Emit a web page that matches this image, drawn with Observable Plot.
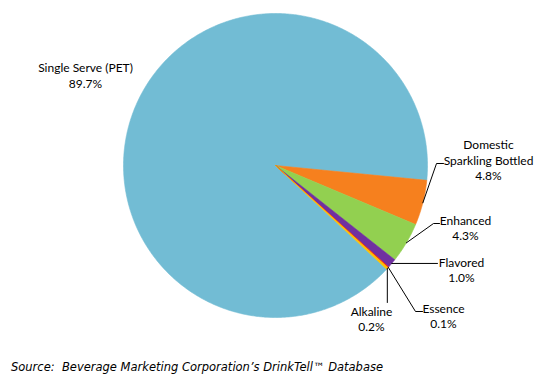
<!DOCTYPE html>
<html>
<head>
<meta charset="utf-8">
<script src="https://cdn.jsdelivr.net/npm/d3@7"></script>
<script src="https://cdn.jsdelivr.net/npm/@observablehq/plot@0.6"></script>
<style>
  body { margin: 0; background: #fff; }
  #chart svg { display: block; }
  #source { font: italic 11.5px Verdana, "DejaVu Sans", sans-serif; color: #000; margin-left: 11px; padding-top: 4px; height: 26px; line-height: 26px; white-space: pre; }
</style>
</head>
<body>
<div id="chart"></div>
<div id="source">Source:  Beverage Marketing Corporation’s DrinkTell™ Database</div>
<script>
// ---- data ----
const categories = ["Single Serve (PET)", "Domestic Sparkling Bottled", "Enhanced", "Flavored", "Essence", "Alkaline"];
const labelNames = ["Single Serve (PET)", "Domestic\nSparkling Bottled", "Enhanced", "Flavored", "Essence", "Alkaline"];
const shares = [89.7, 4.8, 4.3, 1.0, 0.1, 0.2];
const sliceColors = ["#72BCD4", "#F6801E", "#92D050", "#7030A0", "#FF2A00", "#FFC000"];

// ---- layout (pixels) ----
const W = 547, H = 350;
const CX = 275, CY = 165, R = 152;
const rotation = 133; // degrees clockwise from 12 o'clock where first slice starts
const toU = (px, py) => [(px - CX) / R, (CY - py) / R];

// label block centres, in pixels
const labelPos = {
  "Single Serve (PET)": [85, 74.5],
  "Domestic Sparkling Bottled": [488, 159],
  "Enhanced": [465, 227],
  "Flavored": [461, 269],
  "Essence": [443, 315],
  "Alkaline": [371, 318]
};
// leader-line waypoints after the slice edge point (pixels; null = keep edge coordinate)
const leaderPath = {
  "Domestic Sparkling Bottled": [[436, 163], [443, 163]],
  "Enhanced": [[433, 223], [439, 223]],
  "Flavored": [[437, null]],
  "Essence": [[415, 311], [422, 311]],
  "Alkaline": [[null, 302]]
};

// ---- slices ----
const total = d3.sum(shares);
let acc = rotation;
const slices = categories.map((name, i) => {
  const span = shares[i] / total * 360;
  const s = {name, value: shares[i], start: acc, end: acc + span, mid: acc + span / 2, i};
  acc += span;
  return s;
});
const rad = d => d * Math.PI / 180;

const polyPts = [];
for (const s of slices) {
  polyPts.push({name: s.name, x: 0, y: 0});
  const n = Math.max(2, Math.ceil((s.end - s.start) / 0.5));
  for (let k = 0; k <= n; k++) {
    const a = rad(s.start + (s.end - s.start) * k / n);
    polyPts.push({name: s.name, x: Math.sin(a), y: Math.cos(a)});
  }
  polyPts.push({name: s.name, x: 0, y: 0});
}

// leader lines
const leaderPts = [];
for (const s of slices) {
  const path = leaderPath[s.name];
  if (!path) continue;
  const ex = Math.sin(rad(s.mid)), ey = Math.cos(rad(s.mid));
  leaderPts.push({name: s.name, x: ex, y: ey});
  const epx = CX + ex * R, epy = CY - ey * R;
  for (const [px, py] of path) {
    const [ux, uy] = toU(px ?? epx, py ?? epy);
    leaderPts.push({name: s.name, x: ux, y: uy});
  }
}

// labels
const labels = slices.map(s => {
  const [ux, uy] = toU(...labelPos[s.name]);
  return {name: s.name, x: ux, y: uy, text: labelNames[s.i] + "\n" + s.value.toFixed(1) + "%"};
});

const chart = Plot.plot({
  width: W,
  height: H,
  marginLeft: CX - R,
  marginRight: W - (CX + R),
  marginTop: CY - R,
  marginBottom: H - (CY + R),
  x: {domain: [-1, 1], axis: null},
  y: {domain: [-1, 1], axis: null},
  color: {domain: categories, range: sliceColors},
  marks: [
    Plot.line(polyPts, {x: "x", y: "y", z: "name", fill: "name", stroke: "name", strokeWidth: 0.6, curve: "linear"}),
    Plot.line(leaderPts, {x: "x", y: "y", z: "name", stroke: "#000", strokeWidth: 1, curve: "linear"}),
    Plot.text(labels, {x: "x", y: "y", text: "text", fontSize: 12, lineHeight: 1.3, fill: "#000", fontFamily: "Lato, 'Open Sans', sans-serif", textAnchor: "middle", lineAnchor: "middle"})
  ]
});
document.getElementById("chart").append(chart);
</script>
</body>
</html>
